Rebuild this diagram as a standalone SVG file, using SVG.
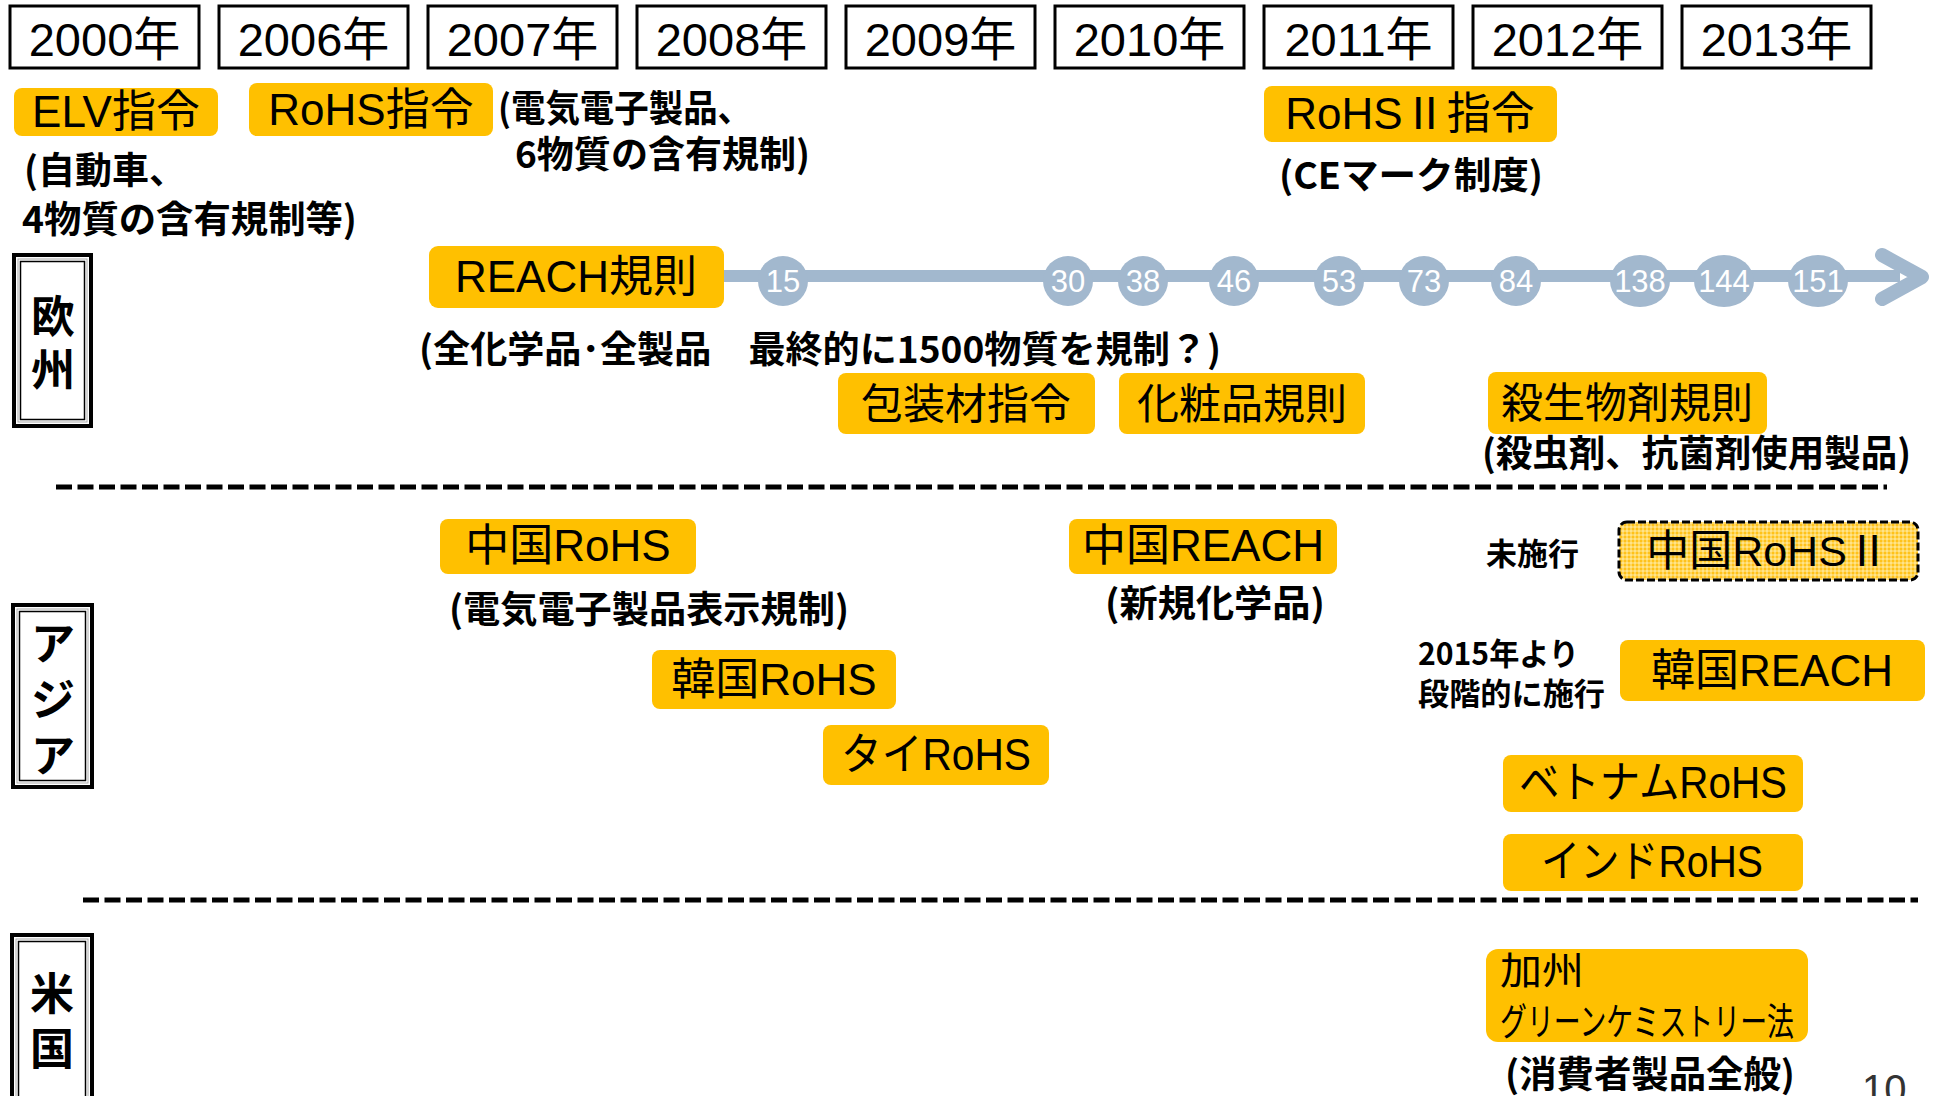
<svg xmlns="http://www.w3.org/2000/svg" width="1934" height="1096" viewBox="0 0 1934 1096">
<defs>
<style>
.yr{fill:#fff;stroke:#000;stroke-width:3}
.yt{font-family:"Liberation Sans","Noto Sans CJK JP",sans-serif;font-size:47px;fill:#000;text-anchor:middle}
.box{fill:#FFC000;stroke:none}
.lb{font-family:"Liberation Sans","Noto Sans CJK JP",sans-serif;font-size:44px;fill:#000;text-anchor:middle}
.ds{font-family:"Noto Sans CJK JP",sans-serif;font-weight:bold;font-size:37px;fill:#000}
.sm{font-family:"Noto Sans CJK JP",sans-serif;font-weight:bold;font-size:31px;fill:#000}
.sec-o{fill:#fff;stroke:#000;stroke-width:4}
.sec-i{fill:none;stroke:#000;stroke-width:1.5}
.sec-g{fill:none;stroke:#aaa;stroke-width:1}
.st{font-family:"Noto Sans CJK JP",sans-serif;font-weight:bold;font-size:44px;fill:#000;text-anchor:middle}
.dot{fill:#A2B8CE}
.num{font-family:"Liberation Sans",sans-serif;font-size:31px;fill:#fff;text-anchor:middle}
.sep{stroke:#000;stroke-width:5;stroke-dasharray:16 5.5;fill:none}
</style>
<pattern id="dots" width="4" height="4" patternUnits="userSpaceOnUse">
<rect width="4" height="4" fill="#FFD65C"/>
<rect x="0" y="0" width="2" height="2" fill="#FFC21A"/>
<rect x="2" y="2" width="2" height="2" fill="#FFE38A"/>
</pattern>
</defs>
<rect width="1934" height="1096" fill="#fff"/>

<g id="years">
<g id="y2000"><rect class="yr" x="10" y="6" width="189" height="62"/><text class="yt" x="104.5" y="56">2000年</text></g>
<g id="y2006"><rect class="yr" x="219" y="6" width="189" height="62"/><text class="yt" x="313.5" y="56">2006年</text></g>
<g id="y2007"><rect class="yr" x="428" y="6" width="189" height="62"/><text class="yt" x="522.5" y="56">2007年</text></g>
<g id="y2008"><rect class="yr" x="637" y="6" width="189" height="62"/><text class="yt" x="731.5" y="56">2008年</text></g>
<g id="y2009"><rect class="yr" x="846" y="6" width="189" height="62"/><text class="yt" x="940.5" y="56">2009年</text></g>
<g id="y2010"><rect class="yr" x="1055" y="6" width="189" height="62"/><text class="yt" x="1149.5" y="56">2010年</text></g>
<g id="y2011"><rect class="yr" x="1264" y="6" width="189" height="62"/><text class="yt" x="1358.5" y="56">2011年</text></g>
<g id="y2012"><rect class="yr" x="1473" y="6" width="189" height="62"/><text class="yt" x="1567.5" y="56">2012年</text></g>
<g id="y2013"><rect class="yr" x="1682" y="6" width="189" height="62"/><text class="yt" x="1776.5" y="56">2013年</text></g>
</g>

<g id="sections">
<g id="sec-eu">
<rect class="sec-o" x="14" y="255" width="77" height="171"/>
<rect class="sec-g" x="18" y="259" width="69" height="163"/>
<rect class="sec-i" x="20.5" y="261.5" width="64" height="158"/>
<text class="st" x="53" y="333">欧</text><text class="st" x="53" y="386">州</text>
</g>
<g id="sec-asia">
<rect class="sec-o" x="13" y="605" width="79" height="182"/>
<rect class="sec-g" x="17" y="609" width="71" height="174"/>
<rect class="sec-i" x="19.5" y="611.5" width="66" height="169"/>
<text class="st" x="53" y="660">ア</text><text class="st" x="53" y="716">ジ</text><text class="st" x="53" y="772">ア</text>
</g>
<g id="sec-us">
<rect class="sec-o" x="12" y="935" width="80" height="180"/>
<rect class="sec-g" x="16" y="939" width="72" height="172"/>
<rect class="sec-i" x="18.5" y="941.5" width="67" height="167"/>
<text class="st" x="52" y="1010">米</text><text class="st" x="52" y="1065">国</text>
</g>
</g>

<g id="separators">
<line class="sep" x1="56" y1="487" x2="1887" y2="487"/>
<line class="sep" x1="83" y1="900" x2="1918" y2="900"/>
</g>

<g id="connectors">
<line x1="720" y1="276" x2="1900" y2="276" stroke="#A2B8CE" stroke-width="12"/>
<polyline points="1882,255 1922,277 1882,299" fill="none" stroke="#A2B8CE" stroke-width="14" stroke-linecap="round" stroke-linejoin="round"/>
</g>

<g id="milestones">
<g id="m15"><circle class="dot" cx="783" cy="281" r="25"/><text class="num" x="783" y="292">15</text></g>
<g id="m30"><circle class="dot" cx="1068" cy="281" r="25"/><text class="num" x="1068" y="292">30</text></g>
<g id="m38"><circle class="dot" cx="1143" cy="281" r="25"/><text class="num" x="1143" y="292">38</text></g>
<g id="m46"><circle class="dot" cx="1234" cy="281" r="25"/><text class="num" x="1234" y="292">46</text></g>
<g id="m53"><circle class="dot" cx="1339" cy="281" r="25"/><text class="num" x="1339" y="292">53</text></g>
<g id="m73"><circle class="dot" cx="1424" cy="281" r="25"/><text class="num" x="1424" y="292">73</text></g>
<g id="m84"><circle class="dot" cx="1516" cy="281" r="25"/><text class="num" x="1516" y="292">84</text></g>
<g id="m138"><ellipse class="dot" cx="1640" cy="281" rx="30" ry="26"/><text class="num" x="1640" y="292">138</text></g>
<g id="m144"><ellipse class="dot" cx="1724" cy="281" rx="30" ry="26"/><text class="num" x="1724" y="292">144</text></g>
<g id="m151"><ellipse class="dot" cx="1818" cy="281" rx="30" ry="26"/><text class="num" x="1818" y="292">151</text></g>
</g>

<g id="elv">
<rect class="box" x="14" y="88" width="204" height="48" rx="8"/>
<text class="lb" x="116" y="127">ELV指令</text>
<text class="ds" x="24" y="184">(自動車、</text>
<text class="ds" x="22" y="233" textLength="335" lengthAdjust="spacingAndGlyphs">4物質の含有規制等)</text>
</g>
<g id="rohs">
<rect class="box" x="249" y="83" width="244" height="53" rx="8"/>
<text class="lb" x="371" y="125">RoHS指令</text>
<text class="ds" x="498" y="122" textLength="254" lengthAdjust="spacingAndGlyphs">(電気電子製品、</text>
<text class="ds" x="515" y="168" textLength="295" lengthAdjust="spacingAndGlyphs">6物質の含有規制)</text>
</g>
<g id="rohs2">
<rect class="box" x="1264" y="86" width="293" height="56" rx="8"/>
<text class="lb" x="1410" y="129">RoHSⅡ指令</text>
<text class="ds" x="1279" y="189" textLength="264" lengthAdjust="spacingAndGlyphs">(CEマーク制度)</text>
</g>
<g id="reach">
<rect class="box" x="429" y="246" width="295" height="62" rx="9"/>
<text class="lb" x="576" y="292">REACH規則</text>
<text class="ds" x="419" y="363" textLength="802" lengthAdjust="spacingAndGlyphs">(全化学品･全製品　最終的に1500物質を規制？)</text>
</g>
<g id="packaging">
<rect class="box" x="838" y="373" width="257" height="61" rx="8"/>
<text class="lb" x="966" y="419" style="font-size:42px">包装材指令</text>
</g>
<g id="cosmetics">
<rect class="box" x="1119" y="373" width="246" height="61" rx="8"/>
<text class="lb" x="1242" y="419" style="font-size:42px">化粧品規則</text>
</g>
<g id="biocide">
<rect class="box" x="1488" y="372" width="279" height="62" rx="8"/>
<text class="lb" x="1627" y="418" style="font-size:42px">殺生物剤規則</text>
<text class="ds" x="1482" y="467" textLength="429" lengthAdjust="spacingAndGlyphs">(殺虫剤、抗菌剤使用製品)</text>
</g>

<g id="china-rohs">
<rect class="box" x="440" y="519" width="256" height="55" rx="8"/>
<text class="lb" x="568" y="561">中国RoHS</text>
<text class="ds" x="449" y="623" textLength="400" lengthAdjust="spacingAndGlyphs">(電気電子製品表示規制)</text>
</g>
<g id="korea-rohs">
<rect class="box" x="652" y="650" width="244" height="59" rx="8"/>
<text class="lb" x="774" y="695">韓国RoHS</text>
</g>
<g id="thai-rohs">
<rect class="box" x="823" y="725" width="226" height="60" rx="8"/>
<text class="lb" x="936" y="770" textLength="190" lengthAdjust="spacingAndGlyphs">タイRoHS</text>
</g>
<g id="china-reach">
<rect class="box" x="1069" y="519" width="268" height="55" rx="8"/>
<text class="lb" x="1203" y="561">中国REACH</text>
<text class="ds" x="1105" y="617" textLength="220" lengthAdjust="spacingAndGlyphs">(新規化学品)</text>
</g>
<g id="china-rohs2">
<text class="sm" x="1486" y="565" textLength="93" lengthAdjust="spacingAndGlyphs">未施行</text>
<rect x="1619" y="522" width="299" height="58" rx="8" fill="url(#dots)" stroke="#000" stroke-width="3" stroke-dasharray="8 3"/>
<text class="lb" x="1768" y="566" style="font-size:43px">中国RoHSⅡ</text>
</g>
<g id="korea-reach">
<text class="sm" x="1418" y="665" textLength="161" lengthAdjust="spacingAndGlyphs">2015年より</text>
<text class="sm" x="1418" y="705" textLength="187" lengthAdjust="spacingAndGlyphs">段階的に施行</text>
<rect class="box" x="1620" y="640" width="305" height="61" rx="8"/>
<text class="lb" x="1772" y="686">韓国REACH</text>
</g>
<g id="vietnam-rohs">
<rect class="box" x="1503" y="755" width="300" height="57" rx="8"/>
<text class="lb" x="1653" y="798" textLength="268" lengthAdjust="spacingAndGlyphs">ベトナムRoHS</text>
</g>
<g id="india-rohs">
<rect class="box" x="1503" y="834" width="300" height="57" rx="8"/>
<text class="lb" x="1652" y="877" textLength="222" lengthAdjust="spacingAndGlyphs">インドRoHS</text>
</g>

<g id="ca-green">
<rect class="box" x="1486" y="949" width="322" height="93" rx="12"/>
<text class="lb" x="1500" y="984" style="font-size:38px;text-anchor:start" textLength="84" lengthAdjust="spacingAndGlyphs">加州</text>
<text class="lb" x="1500" y="1035" style="font-size:38px;text-anchor:start" textLength="294" lengthAdjust="spacingAndGlyphs">グリーンケミストリー法</text>
<text class="ds" x="1505" y="1088" textLength="290" lengthAdjust="spacingAndGlyphs">(消費者製品全般)</text>
</g>

<text x="1862" y="1103" font-family="Liberation Sans, sans-serif" font-size="40" fill="#333">10</text>
</svg>
